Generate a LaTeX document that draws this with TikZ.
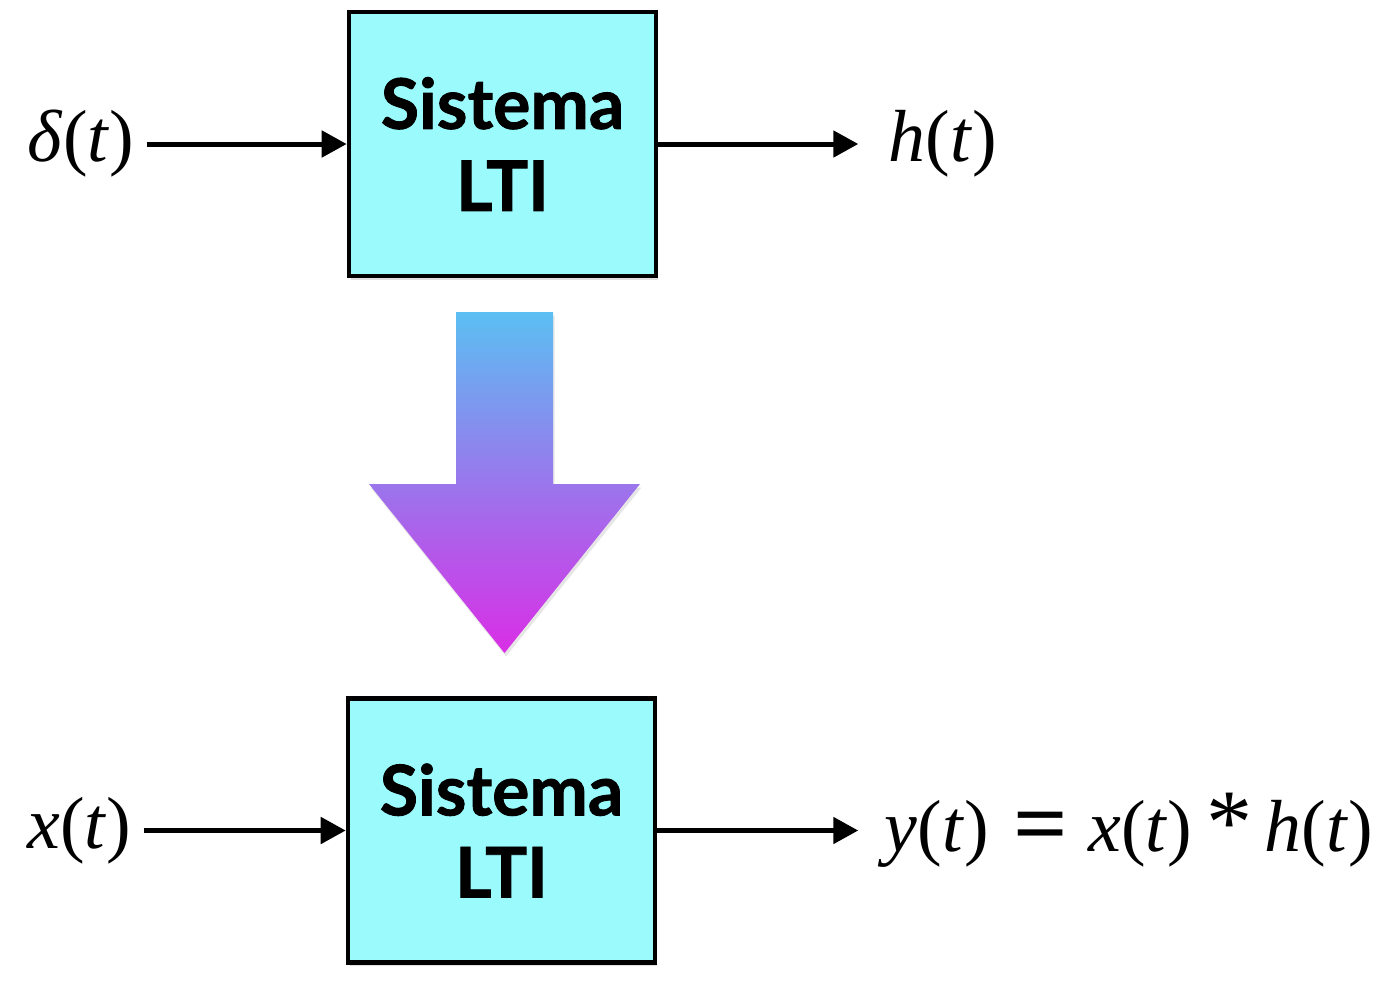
\documentclass[tikz,border=0pt]{standalone}
\usepackage{fontspec}
\setmainfont{Liberation Serif}
\newfontfamily\boxfont{Lato}[BoldFeatures={FakeBold=1.2}]
\usetikzlibrary{arrows.meta,positioning,shadows}

\definecolor{boxcyan}{HTML}{9AFAFC}
\definecolor{arrtop}{HTML}{5BBFF2}
\definecolor{arrmid}{HTML}{8B65E8}
\definecolor{arrbot}{HTML}{D92EE6}
\newcommand{\iv}[1]{\textit{#1}}

\begin{document}
\begin{tikzpicture}[
    ltibox/.style={draw, line width=2.6pt, fill=boxcyan, minimum width=6.14cm, minimum height=5.28cm,
        align=center, font=\boxfont\bfseries\fontsize{39.7}{46.7}\selectfont,
        drop shadow={shadow xshift=0.03cm, shadow yshift=-0.07cm, opacity=0.25}},
    signal/.style={inner sep=0pt, font=\fontsize{42}{50}\selectfont},
    conn/.style={line width=2.85pt, -{Triangle[length=0.5cm,width=0.52cm]}},
]
\useasboundingbox (0,0) rectangle (27.76,-19.68);

\node[ltibox] (sys1) at (10.05,-2.88) {Sistema\\LTI};
\node[signal, left=4.24cm of sys1] (delta) {\iv{δ}(\iv{t})};
\node[signal, right=4.6cm of sys1] (hout) {\iv{h}(\iv{t})};
\draw[conn, shorten <=0.24cm] (delta) -- (sys1);
\draw[conn, shorten >=0.6cm] (sys1) -- (hout);

\shade[top color=arrtop, middle color=arrmid, bottom color=arrbot,
    drop shadow={shadow xshift=0.03cm, shadow yshift=-0.07cm, opacity=0.2}]
    (9.12,-6.24) -- (11.06,-6.24) -- (11.06,-9.68) -- (12.8,-9.68)
    -- (10.09,-13.06) -- (7.38,-9.68) -- (9.12,-9.68) -- cycle;

\node[ltibox] (sys2) at (10.03,-16.61) {Sistema\\LTI};
\node[signal, left=4.28cm of sys2] (xin) {\iv{x}(\iv{t})};
\node[signal, right=4.54cm of sys2] (yout)
    {\iv{y}(\iv{t})\hspace{0.5cm}\raisebox{-1pt}{\scalebox{1.3}[1.2]{\textbf{=}}}\hspace{0.4cm}\iv{x}(\iv{t})\hspace{0.28cm}\raisebox{-1pt}{\scalebox{1.25}{*}}\hspace{0.25cm}\iv{h}(\iv{t})};
\draw[conn, shorten <=0.24cm] (xin) -- (sys2);
\draw[conn, shorten >=0.52cm] (sys2) -- (yout);
\end{tikzpicture}
\end{document}
